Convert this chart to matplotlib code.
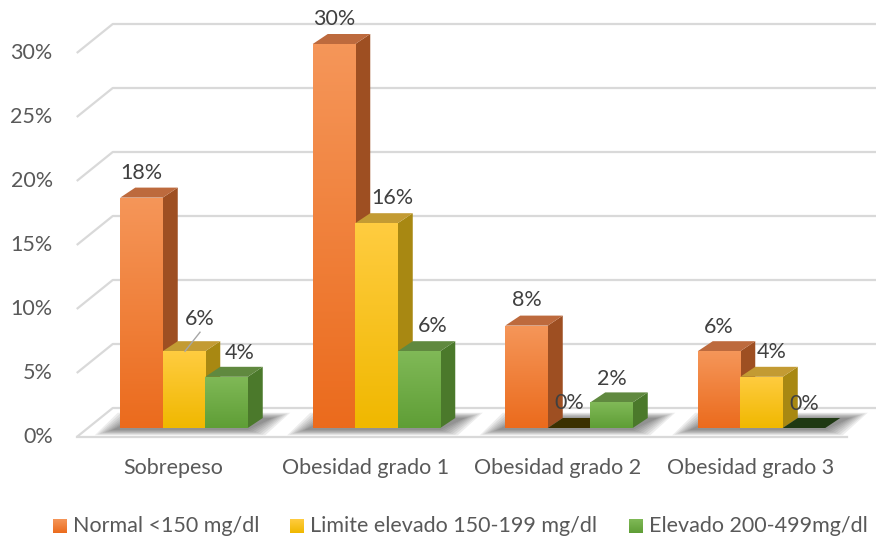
import numpy as np
import matplotlib.pyplot as plt
from matplotlib.patches import Polygon, Rectangle

plt.rcParams['font.family'] = ['Lato', 'DejaVu Sans']

categorias = ['Sobrepeso', 'Obesidad grado 1', 'Obesidad grado 2', 'Obesidad grado 3']
series = ['Normal <150 mg/dl', 'Limite elevado 150-199 mg/dl', 'Elevado 200-499mg/dl']
normal = [18, 30, 8, 6]
limite = [6, 16, 0, 4]
elevado = [4, 6, 2, 0]
valores = [normal, limite, elevado]
yticks = [0, 5, 10, 15, 20, 25, 30]

# pixel scale of the fake 3d layout (px per category, px per percent)
XPX = 192.5
YPX = 12.8
W, H = 876, 536
FS = 15.5

# colours: front top, front bottom, side, top, flat top for zero bars
estilos = [
    dict(f1='#f59659', f2='#eb6b1d', side='#9e4f22', top='#bd6a3d', zero='#4a2a10'),
    dict(f1='#ffcc40', f2='#f0b800', side='#a88812', top='#c39b33', zero='#3b3100'),
    dict(f1='#80b957', f2='#5f9e36', side='#4b792b', top='#60893f', zero='#1f3913'),
]
# label nudges in px (dx, dy) where labels were moved to avoid overlap
nudge = [
    [(0, -25), (0, -25), (0, -26), (0, -24)],
    [(16, -32), (16, -25), (0, -25), (10, -25)],
    [(13, -24), (14, -25), (0, -23), (0, -24)],
]

fig = plt.figure(figsize=(W / 100, H / 100), dpi=100)
ax = fig.add_axes([0, 0, 1, 1])

def px(dx):
    return dx / XPX

def py(dy):
    return dy / YPX

grid_c = '#d9d9d9'
gdx, gdy = px(36), py(29)
x0, x1 = -0.5, 3.5
for v in yticks:
    ax.plot([x0, x0 + gdx, 3.75], [v, v + gdy, v + gdy], color=grid_c, lw=1.6,
            solid_capstyle='butt', zorder=1)
    ax.text(x0 - px(24), v, f'{v}%', ha='right', va='center', fontsize=FS,
            color='#595959')
# floor front edge
ax.plot([x0, x1], [0, 0], color=grid_c, lw=1.6, zorder=1)

bw = 42.5 / XPX
fdx, fdy = px(11), py(9)      # bar base inset from floor front
ddx, ddy = px(15), py(10)     # bar depth

grad = np.linspace(0, 1, 64).reshape(-1, 1)

def hex2rgb(h):
    return np.array([int(h[i:i + 2], 16) / 255 for i in (1, 3, 5)])

# soft shadow beneath each group
for i in range(len(categorias)):
    gx0 = i + fdx - 1.5 * bw
    gx1 = i + fdx + 1.5 * bw
    for k in range(8):
        e = k * 2.5
        sh = Polygon([(gx0 - px(8 + e), fdy - py(2 + e * 0.3)),
                      (gx1 + px(e), fdy - py(2 + e * 0.3)),
                      (gx1 + ddx + px(10 + e), fdy + ddy + py(e * 0.3)),
                      (gx0 + ddx - px(e), fdy + ddy + py(e * 0.3))],
                     closed=True, fc='#383838', ec='none', alpha=0.09, zorder=2)
        ax.add_patch(sh)

for s, vals in enumerate(valores):
    st = estilos[s]
    for i, v in enumerate(vals):
        bx = i + fdx + (s - 1.5) * bw
        by = fdy
        top = by + v
        zo = 3 + i * 0.01 + s * 0.001
        if v > 0:
            # side face
            ax.add_patch(Polygon([(bx + bw, by), (bx + bw + ddx, by + ddy),
                                  (bx + bw + ddx, top + ddy), (bx + bw, top)],
                                 fc=st['side'], ec='none', zorder=zo))
            # top face
            ax.add_patch(Polygon([(bx, top), (bx + ddx, top + ddy),
                                  (bx + bw + ddx, top + ddy), (bx + bw, top)],
                                 fc=st['top'], ec='none', zorder=zo))
            # front face with vertical gradient
            c1, c2 = hex2rgb(st['f1']), hex2rgb(st['f2'])
            img = (c1[None, None, :] * (1 - grad[:, :, None]) +
                   c2[None, None, :] * grad[:, :, None])
            face = Rectangle((bx, by), bw, v, fc='none', ec='none')
            ax.add_patch(face)
            im = ax.imshow(img, extent=[bx, bx + bw, by, top], origin='upper',
                           aspect='auto', zorder=zo, interpolation='bilinear')
            im.set_clip_path(face)
        else:
            ax.add_patch(Polygon([(bx, by), (bx + ddx, by + ddy),
                                  (bx + bw + ddx, by + ddy), (bx + bw, by)],
                                 fc=st['zero'], ec='none', zorder=zo))
        ndx, ndy = nudge[s][i]
        lx = bx + bw / 2 + px(ndx)
        ly = top - py(ndy)
        ax.text(lx, ly, f'{v}%', ha='center', va='center', fontsize=FS,
                color='#404040', zorder=10)
        if ndy < -28:
            ax.plot([bx + bw / 2 + px(1), lx], [top, ly - py(13)],
                    color='#a6a6a6', lw=1, zorder=10)

for i, c in enumerate(categorias):
    ax.text(i, -py(31), c, ha='center', va='center', fontsize=FS, color='#595959')

ax.set_xlim(-173 / XPX, (W - 173) / XPX)
ax.set_ylim(-(H - 437) / YPX, 437 / YPX)
ax.axis('off')

# legend row along the bottom edge
leg_sq = [53, 290, 629]
for s, name in enumerate(series):
    st = estilos[s]
    c1, c2 = hex2rgb(st['f1']), hex2rgb(st['f2'])
    img = (c1[None, None, :] * (1 - grad[:, :, None]) + c2[None, None, :] * grad[:, :, None])
    lax = fig.add_axes([leg_sq[s] / W, 1 - 533 / H, 14 / W, 14 / H])
    lax.imshow(img, aspect='auto', extent=[0, 1, 0, 1])
    lax.axis('off')
    fig.text((leg_sq[s] + 20) / W, 1 - 526 / H, name, ha='left', va='center',
             fontsize=FS, color='#595959')

fig.savefig('out.png', dpi=100)
